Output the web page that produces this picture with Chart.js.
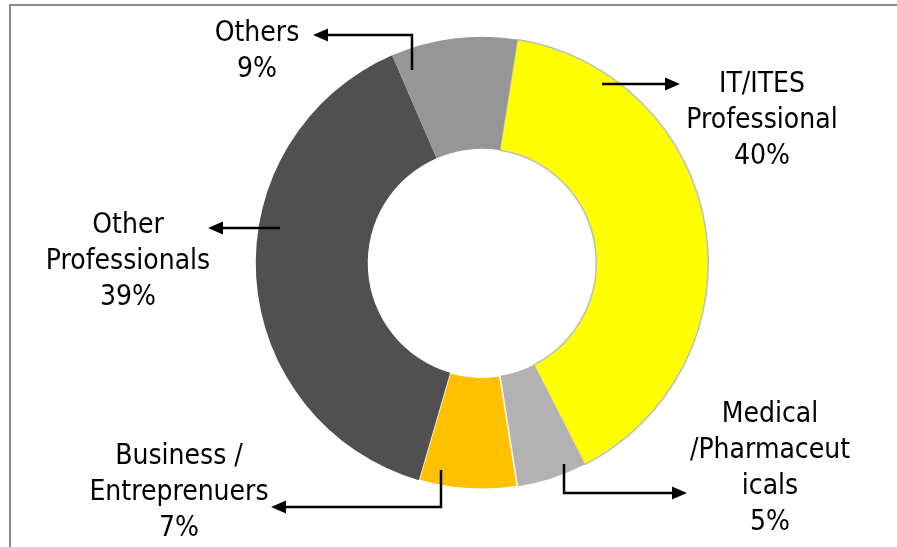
<!DOCTYPE html>
<html lang="en">
<head>
    <meta charset="UTF-8">
    <title>Occupation split</title>
    <script src="https://cdn.jsdelivr.net/npm/chart.js"></script>
    <style>
        body {
            margin: 0;
            padding: 0;
            background: #ffffff;
            overflow: hidden;
        }

        #frame {
            position: absolute;
            left: 9px;
            top: 4px;
            width: 900px;
            height: 560px;
            border-left: 2px solid #8c8c8c;
            border-top: 2px solid #8c8c8c;
        }

        #occChart {
            position: absolute;
            left: 0;
            top: 0;
        }
    </style>
</head>
<body>
    <div id="frame"></div>
    <canvas id="occChart" width="897" height="547"></canvas>

    <script>
        // Share of each occupation group, clockwise from the top
        var categories = ['IT/ITES Professional', 'Medical /Pharmaceuticals', 'Business / Entreprenuers', 'Other Professionals', 'Others'];
        var shares = [40, 5, 7, 39, 9];
        var labelLines = [
            ['IT/ITES', 'Professional'],
            ['Medical', '/Pharmaceut', 'icals'],
            ['Business /', 'Entreprenuers'],
            ['Other', 'Professionals'],
            ['Others']
        ];
        var sliceColors = ['#ffff00', '#b2b2b2', '#ffc000', '#505050', '#969696'];

        // Callouts: arrow path and text block, offsets from the doughnut centre
        var callouts = [
            { path: [[120, -179], [198, -179]], text: [280, -179] },
            { path: [[82, 201], [82, 230], [205, 230]], text: [288, 151] },
            { path: [[-41, 207], [-41, 244], [-211, 244]], text: [-303, 193] },
            { path: [[-202, -35], [-274, -35]], text: [-354, -38] },
            { path: [[-70, -193], [-70, -228], [-169, -228]], text: [-225, -230] }
        ];

        var calloutPlugin = {
            id: 'callouts',
            afterDatasetsDraw: function(chart) {
                var ctx = chart.ctx;
                var arc = chart.getDatasetMeta(0).data[0];
                var cx = arc.x, cy = arc.y;
                ctx.save();
                ctx.strokeStyle = '#000000';
                ctx.fillStyle = '#000000';
                ctx.lineWidth = 2.5;
                callouts.forEach(function(c, i) {
                    var pts = c.path.map(function(p) { return [cx + p[0], cy + p[1]]; });
                    var last = pts[pts.length - 1];
                    var prev = pts[pts.length - 2];
                    var ang = Math.atan2(last[1] - prev[1], last[0] - prev[0]);
                    var head = 15, half = 6.5;
                    // shaft stops where the arrow head begins
                    ctx.beginPath();
                    ctx.moveTo(pts[0][0], pts[0][1]);
                    for (var k = 1; k < pts.length - 1; k++) ctx.lineTo(pts[k][0], pts[k][1]);
                    ctx.lineTo(last[0] - Math.cos(ang) * (head - 2), last[1] - Math.sin(ang) * (head - 2));
                    ctx.stroke();
                    ctx.beginPath();
                    ctx.moveTo(last[0], last[1]);
                    ctx.lineTo(last[0] - Math.cos(ang) * head - Math.sin(ang) * half, last[1] - Math.sin(ang) * head + Math.cos(ang) * half);
                    ctx.lineTo(last[0] - Math.cos(ang) * head + Math.sin(ang) * half, last[1] - Math.sin(ang) * head - Math.cos(ang) * half);
                    ctx.closePath();
                    ctx.fill();

                    var lines = labelLines[i].concat([shares[i] + '%']);
                    ctx.font = '28px "DejaVu Sans Condensed", "DejaVu Sans", sans-serif';
                    ctx.textAlign = 'center';
                    ctx.textBaseline = 'middle';
                    lines.forEach(function(t, j) {
                        ctx.fillText(t, cx + c.text[0], cy + c.text[1] + j * 36 + 1);
                    });
                });
                ctx.restore();
            }
        };

        var ctx = document.getElementById('occChart').getContext('2d');
        var occChart = new Chart(ctx, {
            type: 'doughnut',
            data: {
                labels: categories,
                datasets: [{
                    data: shares,
                    backgroundColor: sliceColors,
                    borderColor: ['#bdbdbd', '#b2b2b2', '#ffffff', '#505050', '#969696'],
                    borderWidth: [1.5, 0, 1.5, 0, 0]
                }]
            },
            options: {
                responsive: false,
                animation: false,
                rotation: 9,
                cutout: '50.5%',
                events: [],
                layout: {
                    padding: { left: 255, right: 188, top: 36, bottom: 57 }
                },
                plugins: {
                    legend: { display: false },
                    tooltip: { enabled: false }
                }
            },
            plugins: [calloutPlugin]
        });
    </script>
</body>
</html>
